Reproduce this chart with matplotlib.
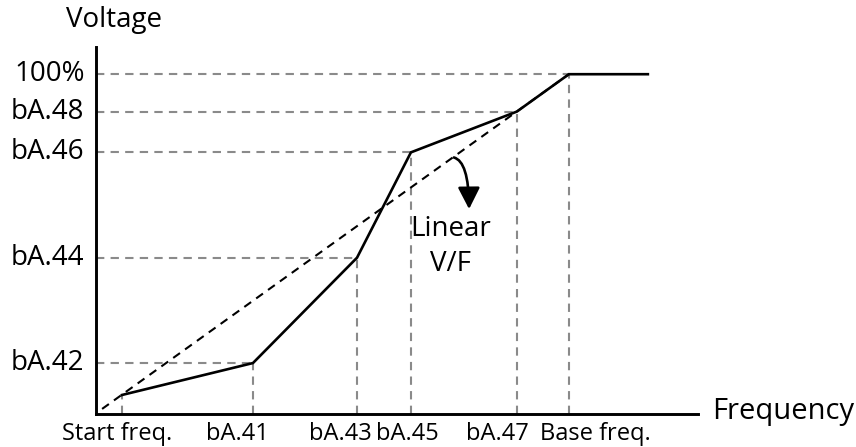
import matplotlib
matplotlib.use('Agg')
import matplotlib.pyplot as plt
from matplotlib.patches import FancyArrowPatch

plt.rcParams['font.family'] = ['Open Sans', 'DejaVu Sans']

# V/F pattern break points (frequency normalised to base freq = 100, voltage in %)
freq_pts = [5.5, 33.2, 55.2, 66.6, 89.0, 100.0, 116.7]
volt_pts = [5.6, 15.0, 46.0, 77.0, 89.0, 100.0, 100.0]

x_labels = ['Start freq.', 'bA.41', 'bA.43', 'bA.45', 'bA.47', 'Base freq.']
x_label_pos = [4.4, 30.0, 51.6, 65.8, 84.9, 105.5]
y_labels = ['bA.42', 'bA.44', 'bA.46', 'bA.48', '100%']
y_label_vals = volt_pts[1:6]

fig = plt.figure(figsize=(8.56, 4.47), dpi=100)
ax = fig.add_axes([0.1121, 0.0738, 0.7033, 0.821])
ax.set_xlim(0, 127.3)
ax.set_ylim(0, 108)

for s in ['top', 'right']:
    ax.spines[s].set_visible(False)
for s in ['left', 'bottom']:
    ax.spines[s].set_linewidth(2.1)
    ax.spines[s].set_color('black')
ax.set_xticks([])
ax.set_yticks([])

grey = '#8a8a8a'
# guide lines from each break point to both axes
for f, v in zip(freq_pts[:6], volt_pts[:6]):
    ax.plot([f, f], [0, v], color=grey, lw=1.5, ls=(0, (4, 3)), zorder=1)
for f, v in zip(freq_pts[1:6], volt_pts[1:6]):
    ax.plot([0, f], [v, v], color=grey, lw=1.5, ls=(0, (4, 3)), zorder=1)

# linear V/F reference
ax.plot([1.3, freq_pts[5]], [1.5, volt_pts[5]], color='black', lw=1.5,
        ls=(0, (4, 3)), zorder=2)
# user V/F curve
ax.plot(freq_pts, volt_pts, color='black', lw=1.9, zorder=3,
        solid_joinstyle='miter')

# curved pointer from the linear line down to its label
arrow = FancyArrowPatch((75.1, 75.6), (78.9, 59.5),
                        connectionstyle='angle3,angleA=0,angleB=90',
                        arrowstyle='-|>,head_length=0.55,head_width=0.28',
                        mutation_scale=24, color='black', lw=1.9)
ax.add_patch(arrow)
ax.text(75.0, 54.5, 'Linear', fontsize=20, ha='center', va='center')
ax.text(75.0, 44.2, 'V/F', fontsize=20, ha='center', va='center')

for lab, v in zip(y_labels, y_label_vals):
    ax.text(-2.4, v, lab, fontsize=20, ha='right', va='center')
for lab, x in zip(x_labels, x_label_pos):
    ax.text(x, -7.7, lab, fontsize=17, ha='center', va='baseline')

fig.text(114 / 856, 1 - 20 / 447, 'Voltage', fontsize=20, ha='center', va='center')
fig.text(712 / 856, 1 - 412 / 447, 'Frequency', fontsize=21, ha='left', va='center')

fig.savefig('out.png', dpi=100)
